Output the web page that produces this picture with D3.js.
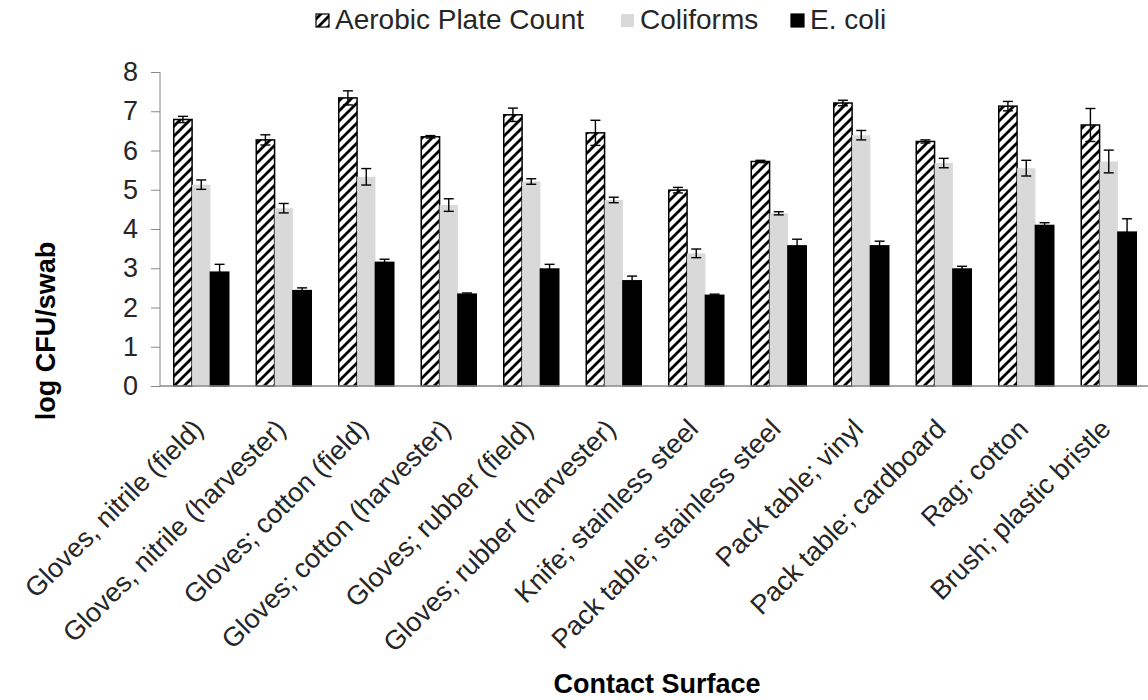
<!DOCTYPE html>
<html>
<head>
<meta charset="utf-8">
<script src="https://cdn.jsdelivr.net/npm/d3@7"></script>
<style>
  body { margin: 0; background: #fff; }
  svg { font-family: "Liberation Sans", Arial, sans-serif; }
</style>
</head>
<body>
<div id="chart"></div>
<script>
const categories = [
  "Gloves, nitrile (field)", "Gloves, nitrile (harvester)", "Gloves; cotton (field)",
  "Gloves; cotton (harvester)", "Gloves; rubber (field)", "Gloves; rubber (harvester)",
  "Knife; stainless steel", "Pack table; stainless steel", "Pack table; vinyl",
  "Pack table; cardboard", "Rag; cotton", "Brush; plastic bristle"
];
const seriesNames = ["Aerobic Plate Count", "Coliforms", "E. coli"];
const apc = [6.79, 6.27, 7.34, 6.35, 6.91, 6.45, 4.99, 5.72, 7.21, 6.23, 7.13, 6.65];
const apcErr = [0.08, 0.13, 0.18, 0.03, 0.17, 0.32, 0.07, 0.03, 0.07, 0.04, 0.12, 0.42];
const coliforms = [5.13, 4.53, 5.33, 4.61, 5.21, 4.74, 3.38, 4.40, 6.39, 5.68, 5.55, 5.72];
const coliformsErr = [0.12, 0.12, 0.21, 0.16, 0.07, 0.07, 0.11, 0.04, 0.12, 0.12, 0.20, 0.29];
const ecoli = [2.90, 2.43, 3.15, 2.34, 2.98, 2.68, 2.31, 3.57, 3.57, 2.98, 4.09, 3.92];
const ecoliErr = [0.20, 0.07, 0.08, 0.03, 0.12, 0.12, 0.03, 0.17, 0.12, 0.07, 0.07, 0.34];
const yTicks = [0, 1, 2, 3, 4, 5, 6, 7, 8];

const width = 1148, height = 700;
const fontSize = 27;
const svg = d3.select("#chart").append("svg")
  .attr("width", width).attr("height", height);

const defs = svg.append("defs");
const hatch = defs.append("pattern")
  .attr("id", "hatch")
  .attr("patternUnits", "userSpaceOnUse")
  .attr("width", 10).attr("height", 10);
hatch.append("rect").attr("width", 10).attr("height", 10).attr("fill", "#fff");
hatch.append("path")
  .attr("d", "M-2,12 L12,-2 M-4,4 L4,-4 M6,14 L14,6")
  .attr("stroke", "#000").attr("stroke-width", 2.8);

const x0 = d3.scaleBand().domain(categories).range([160, 1150]);
const bw = x0.bandwidth();
const x1 = d3.scaleBand().domain(seriesNames).range([bw / 6, bw * 5 / 6]);
const y = d3.scaleLinear().domain([0, 8]).range([386, 72]);

// y axis
const yAxis = svg.append("g")
  .attr("transform", "translate(160,0)")
  .call(d3.axisLeft(y).tickValues(yTicks).tickSize(9).tickPadding(13).tickFormat(d3.format("d")));
yAxis.selectAll("line").attr("stroke", "#888");
yAxis.select(".domain").attr("stroke", "#888").attr("d", "M0,72V386");
yAxis.selectAll("text")
  .attr("font-size", fontSize).attr("fill", "#262626")
  .attr("font-family", "Liberation Sans, Arial, sans-serif");

const series = [
  { name: seriesNames[0], values: apc, err: apcErr, fill: "url(#hatch)", stroke: "#000" },
  { name: seriesNames[1], values: coliforms, err: coliformsErr, fill: "#d9d9d9", stroke: "none" },
  { name: seriesNames[2], values: ecoli, err: ecoliErr, fill: "#000", stroke: "#000" }
];

series.forEach(s => {
  svg.append("g").selectAll("rect")
    .data(categories)
    .enter().append("rect")
    .attr("x", c => x0(c) + x1(s.name))
    .attr("y", (c, i) => y(s.values[i]))
    .attr("width", x1.bandwidth())
    .attr("height", (c, i) => y(0) - y(s.values[i]))
    .attr("fill", s.fill)
    .attr("stroke", s.stroke)
    .attr("stroke-width", 1.5);
});

// category axis line
svg.append("line")
  .attr("x1", 160).attr("x2", 1150)
  .attr("y1", y(0)).attr("y2", y(0))
  .attr("stroke", "#888").attr("stroke-width", 1.5);

// error bars
series.forEach(s => {
  const g = svg.append("g").attr("stroke", "#000").attr("stroke-width", 1.4);
  categories.forEach((c, i) => {
    const cx = x0(c) + x1(s.name) + x1.bandwidth() / 2;
    const lo = y(s.values[i] - s.err[i]);
    const hi = y(s.values[i] + s.err[i]);
    g.append("line").attr("x1", cx).attr("x2", cx).attr("y1", lo).attr("y2", hi);
    g.append("line").attr("x1", cx - 5).attr("x2", cx + 5).attr("y1", hi).attr("y2", hi);
    g.append("line").attr("x1", cx - 5).attr("x2", cx + 5).attr("y1", lo).attr("y2", lo);
  });
});

// category labels
svg.append("g").selectAll("text")
  .data(categories)
  .enter().append("text")
  .attr("transform", c => `translate(${x0(c) + bw / 2 - 10},${y(0) + 31}) rotate(-45)`)
  .attr("text-anchor", "end")
  .attr("dy", "0.71em")
  .attr("font-size", fontSize)
  .attr("fill", "#262626")
  .text(c => c);

// axis titles
svg.append("text")
  .attr("transform", "translate(55,331) rotate(-90)")
  .attr("text-anchor", "middle")
  .attr("font-size", fontSize).attr("font-weight", "bold")
  .attr("fill", "#000")
  .text("log CFU/swab");
svg.append("text")
  .attr("x", 657).attr("y", 693)
  .attr("text-anchor", "middle")
  .attr("font-size", fontSize).attr("font-weight", "bold")
  .attr("fill", "#000")
  .text("Contact Surface");

// legend
const legendX = [335, 640, 810];
const legend = svg.append("g");
series.forEach((s, i) => {
  const g = legend.append("g").attr("transform", `translate(${legendX[i]},0)`);
  g.append("rect").attr("x", -19).attr("y", 14).attr("width", 13).attr("height", 13)
    .attr("fill", s.fill)
    .attr("stroke", s.name === "Coliforms" ? "none" : "#000").attr("stroke-width", 1.2);
  g.append("text").attr("x", 0).attr("y", 29)
    .attr("font-size", 28).attr("fill", "#262626").text(s.name);
});
</script>
</body>
</html>
